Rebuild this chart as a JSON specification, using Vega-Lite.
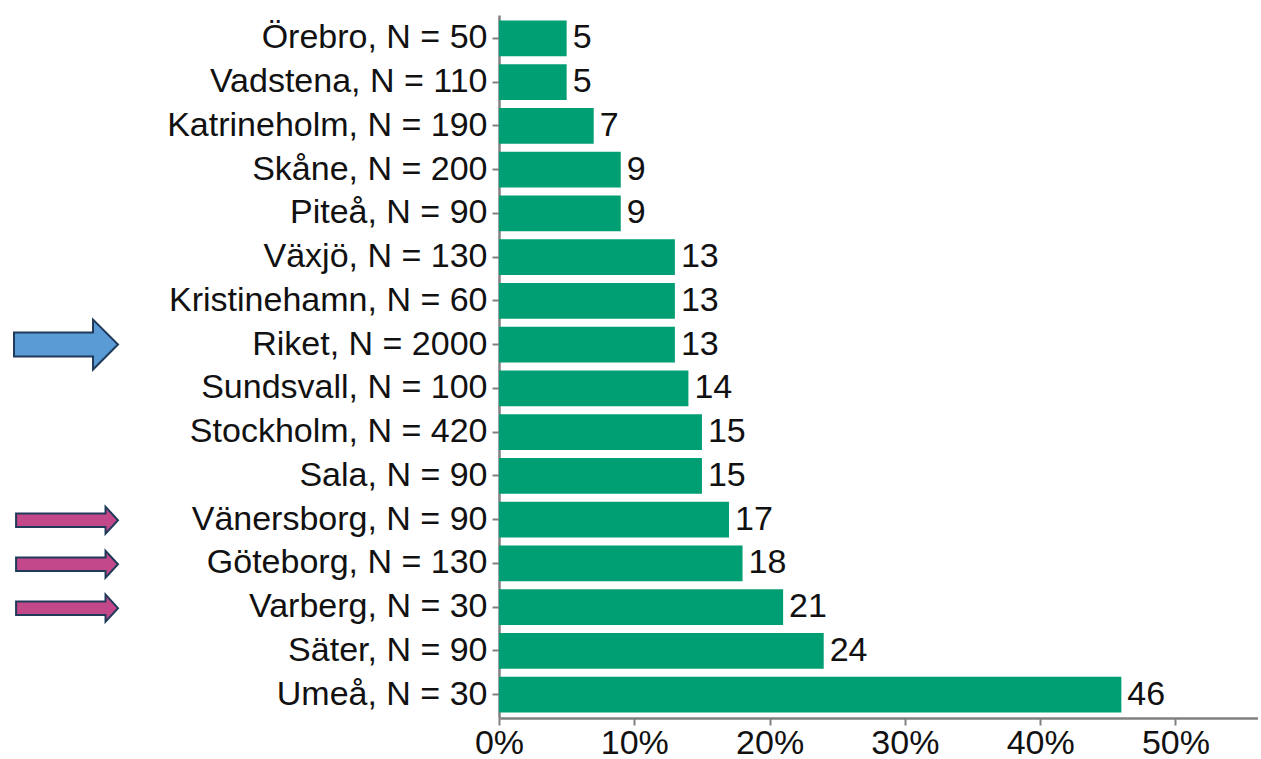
{
  "$schema": "https://vega.github.io/schema/vega-lite/v6.json",
  "padding": {"left": 0, "top": 15, "right": 0, "bottom": 0},
  "spacing": 34,
  "config": {
    "view": {"stroke": null},
    "font": "Liberation Sans",
    "concat": {"spacing": 34}
  },
  "datasets": {
    "bars": [
      {"label": "Örebro, N = 50", "value": 5},
      {"label": "Vadstena, N = 110", "value": 5},
      {"label": "Katrineholm, N = 190", "value": 7},
      {"label": "Skåne, N = 200", "value": 9},
      {"label": "Piteå, N = 90", "value": 9},
      {"label": "Växjö, N = 130", "value": 13},
      {"label": "Kristinehamn, N = 60", "value": 13},
      {"label": "Riket, N = 2000", "value": 13},
      {"label": "Sundsvall, N = 100", "value": 14},
      {"label": "Stockholm, N = 420", "value": 15},
      {"label": "Sala, N = 90", "value": 15},
      {"label": "Vänersborg, N = 90", "value": 17},
      {"label": "Göteborg, N = 130", "value": 18},
      {"label": "Varberg, N = 30", "value": 21},
      {"label": "Säter, N = 90", "value": 24},
      {"label": "Umeå, N = 30", "value": 46}
    ],
    "arrows": [
      {"label": "Riket, N = 2000", "kind": "riket"},
      {"label": "Vänersborg, N = 90", "kind": "jämför"},
      {"label": "Göteborg, N = 130", "kind": "jämför"},
      {"label": "Varberg, N = 30", "kind": "jämför"}
    ]
  },
  "hconcat": [
    {
      "width": 132,
      "height": 703,
      "data": {"name": "arrows"},
      "mark": {"type": "point", "filled": true, "stroke": "#1F3A5A", "strokeWidth": 2, "opacity": 1, "size": 10816},
      "encoding": {
        "y": {
          "field": "label",
          "type": "nominal",
          "scale": {"domain": ["Örebro, N = 50", "Vadstena, N = 110", "Katrineholm, N = 190", "Skåne, N = 200", "Piteå, N = 90", "Växjö, N = 130", "Kristinehamn, N = 60", "Riket, N = 2000", "Sundsvall, N = 100", "Stockholm, N = 420", "Sala, N = 90", "Vänersborg, N = 90", "Göteborg, N = 130", "Varberg, N = 30", "Säter, N = 90", "Umeå, N = 30"], "paddingInner": 0.18, "paddingOuter": 0.125},
          "axis": null
        },
        "shape": {
          "field": "kind",
          "type": "nominal",
          "scale": {"domain": ["riket", "jämför"], "range": ["M-1,-0.23 L0.52,-0.23 L0.52,-0.48 L1,0 L0.52,0.48 L0.52,0.23 L-1,0.23 Z", "M-0.96,-0.13 L0.76,-0.13 L0.76,-0.26 L1,0 L0.76,0.26 L0.76,0.13 L-0.96,0.13 Z"]},
          "legend": null
        },
        "color": {
          "field": "kind",
          "type": "nominal",
          "scale": {"domain": ["riket", "jämför"], "range": ["#5B9BD5", "#C2488A"]},
          "legend": null
        }
      }
    },
    {
      "width": 759,
      "height": 703,
      "data": {"name": "bars"},
      "encoding": {
        "y": {
          "field": "label",
          "type": "nominal",
          "sort": null,
          "scale": {"paddingInner": 0.18, "paddingOuter": 0.125},
          "axis": {
            "title": null,
            "labelFontSize": 34,
            "labelColor": "#111111",
            "labelPadding": 5,
            "tickSize": 7,
            "tickColor": "#808080",
            "tickWidth": 2,
            "domainColor": "#808080",
            "domainWidth": 2.5,
            "labelLimit": 0
          }
        },
        "x": {
          "field": "value",
          "type": "quantitative",
          "scale": {"domain": [0, 56.1], "nice": false},
          "axis": {
            "title": null,
            "values": [0, 10, 20, 30, 40, 50],
            "labelExpr": "datum.value + '%'",
            "labelFlush": false,
            "labelFontSize": 34,
            "labelColor": "#111111",
            "labelPadding": 1,
            "tickSize": 7,
            "tickColor": "#808080",
            "tickWidth": 2,
            "domainColor": "#808080",
            "domainWidth": 2.5,
            "grid": false
          }
        }
      },
      "layer": [
        {"mark": {"type": "bar", "color": "#009E73"}},
        {
          "mark": {"type": "text", "align": "left", "baseline": "middle", "dx": 6, "fontSize": 34, "color": "#111111"},
          "encoding": {"text": {"field": "value", "type": "quantitative"}}
        }
      ]
    }
  ]
}
